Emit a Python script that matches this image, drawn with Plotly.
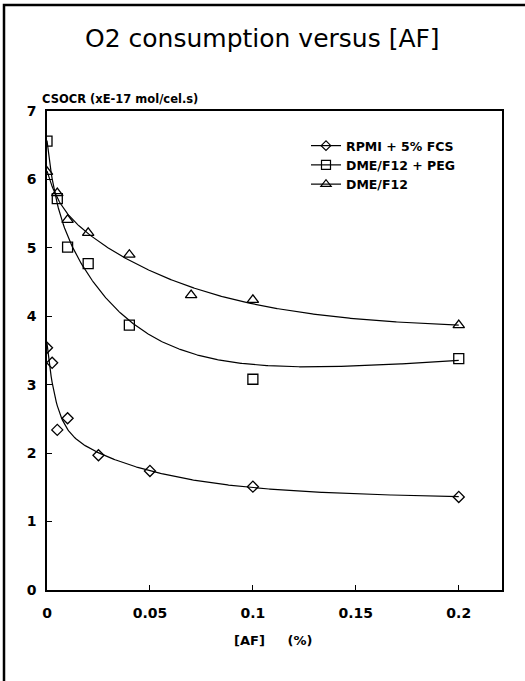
import numpy as np
import plotly.graph_objects as go

# ---- measured cell-specific O2 consumption rate vs antifoam concentration ----
af_rpmi = [0, 0.0025, 0.005, 0.01, 0.025, 0.05, 0.1, 0.2]
csocr_rpmi = [3.54, 3.32, 2.34, 2.51, 1.97, 1.74, 1.51, 1.36]

af_peg = [0, 0.005, 0.01, 0.02, 0.04, 0.1, 0.2]
csocr_peg = [6.56, 5.72, 5.01, 4.77, 3.87, 3.08, 3.38]

af_dme = [0, 0.005, 0.01, 0.02, 0.04, 0.07, 0.1, 0.2]
csocr_dme = [6.11, 5.80, 5.41, 5.22, 4.90, 4.31, 4.24, 3.87]

# weights used for the trend curves (the 0.1 % PEG point is treated as an outlier)
fitw_rpmi = [1, 1, 1, 1, 1, 1, 1, 1]
fitw_peg = [1, 1, 1, 1, 1, 0.1, 1]
fitw_dme = [1, 1, 1, 1, 1, 1, 1, 1]

series_names = ["RPMI + 5% FCS", "DME/F12 + PEG", "DME/F12"]
x_ticks = [0, 0.05, 0.1, 0.15, 0.2]
y_ticks = [0, 1, 2, 3, 4, 5, 6, 7]


def smooth_fit(x, y, w, n=400, ridge=1e-3):
    """Weighted least-squares trend: a + b*x + c*exp(-x/t1) + d*exp(-x/t2)."""
    x = np.asarray(x, float)
    y = np.asarray(y, float)
    w = np.asarray(w, float)
    best = None
    for t1 in np.geomspace(0.0008, 0.02, 30):
        for t2 in np.geomspace(0.008, 0.3, 30):
            if t2 <= 1.5 * t1:
                continue
            A = np.column_stack([np.ones_like(x), x, np.exp(-x / t1), np.exp(-x / t2)])
            Aw = A * w[:, None]
            coef = np.linalg.solve(A.T @ Aw + ridge * np.eye(4), Aw.T @ y)
            err = np.sum(w * (A @ coef - y) ** 2) + ridge * np.sum(coef ** 2)
            if best is None or err < best[0]:
                best = (err, t1, t2, coef)
    _, t1, t2, coef = best
    xs = np.linspace(x.min(), x.max(), n)
    B = np.column_stack([np.ones_like(xs), xs, np.exp(-xs / t1), np.exp(-xs / t2)])
    return xs, B @ coef


FONT = "DejaVu Sans"
fig = go.Figure()

series = [
    (af_rpmi, csocr_rpmi, fitw_rpmi, "diamond-open", 8.5),
    (af_peg, csocr_peg, fitw_peg, "square-open", 10),
    (af_dme, csocr_dme, fitw_dme, "triangle-up-open", 10),
]

for i, ((xv, yv, wv, sym, size), name) in enumerate(zip(series, series_names)):
    xs, ys = smooth_fit(xv, yv, wv)
    fig.add_trace(go.Scatter(x=xs, y=ys, mode="lines",
                             line=dict(color="black", width=1.2),
                             showlegend=False, hoverinfo="skip"))
    fig.add_trace(go.Scatter(x=xv, y=yv, mode="markers",
                             marker=dict(symbol=sym, size=size, color="black",
                                         line=dict(width=1.3)),
                             showlegend=False))
    # legend key: line with marker
    fig.add_trace(go.Scatter(x=[None], y=[None], mode="lines+markers", name=name,
                             legendgroup=f"g{i}",
                             line=dict(color="black", width=1.2),
                             marker=dict(symbol=sym, size=size - 1, color="black",
                                         line=dict(width=1.2))))

W, H = 525, 681
L, R, T, B = 47, 23, 111, 91
pw, ph = W - L - R, H - T - B


def px_x(px):
    return (px - L) / pw


def px_y(py):
    return (H - B - py) / ph


axis_common = dict(showline=True, mirror=True, linecolor="black", linewidth=1.5,
                   ticks="inside", ticklen=5, tickcolor="black", tickwidth=1,
                   showgrid=False, zeroline=False,
                   tickfont=dict(family=FONT, size=14, color="black", weight="bold"))

fig.update_layout(
    width=W, height=H,
    margin=dict(l=L, r=R, t=T, b=B),
    paper_bgcolor="white", plot_bgcolor="white",
    xaxis=dict(range=[0, 0.221], tickvals=x_ticks,
               ticktext=[str(v) for v in x_ticks], ticklabelstandoff=9,
               **axis_common),
    yaxis=dict(range=[0, 7], tickvals=y_ticks, ticklabelstandoff=6,
               **axis_common),
    legend=dict(x=px_x(306), y=px_y(131), xanchor="left", yanchor="top",
                bgcolor="rgba(0,0,0,0)", tracegroupgap=0,
                font=dict(family=FONT, size=12.5, color="black", weight="bold")),
    annotations=[
        dict(text="O2 consumption versus [AF]", x=px_x(262), y=px_y(38),
             xref="paper", yref="paper", xanchor="center", yanchor="middle",
             showarrow=False, font=dict(family=FONT, size=25, color="black")),
        dict(text="CSOCR (xE-17 mol/cel.s)", x=px_x(40), y=px_y(99),
             xref="paper", yref="paper", xanchor="left", yanchor="middle",
             showarrow=False,
             font=dict(family=FONT, size=11.5, color="black", weight="bold")),
        dict(text="[AF]\u00a0\u00a0\u00a0\u00a0\u00a0(%)", x=px_x(273), y=px_y(640),
             xref="paper", yref="paper", xanchor="center", yanchor="middle",
             showarrow=False,
             font=dict(family=FONT, size=13, color="black", weight="bold")),
    ],
    shapes=[
        # outer frame around the whole figure
        dict(type="rect", xref="paper", yref="paper",
             x0=px_x(4), x1=px_x(540), y0=px_y(700), y1=px_y(5),
             line=dict(color="black", width=2.5)),
    ],
)

fig.write_html("out.html")
